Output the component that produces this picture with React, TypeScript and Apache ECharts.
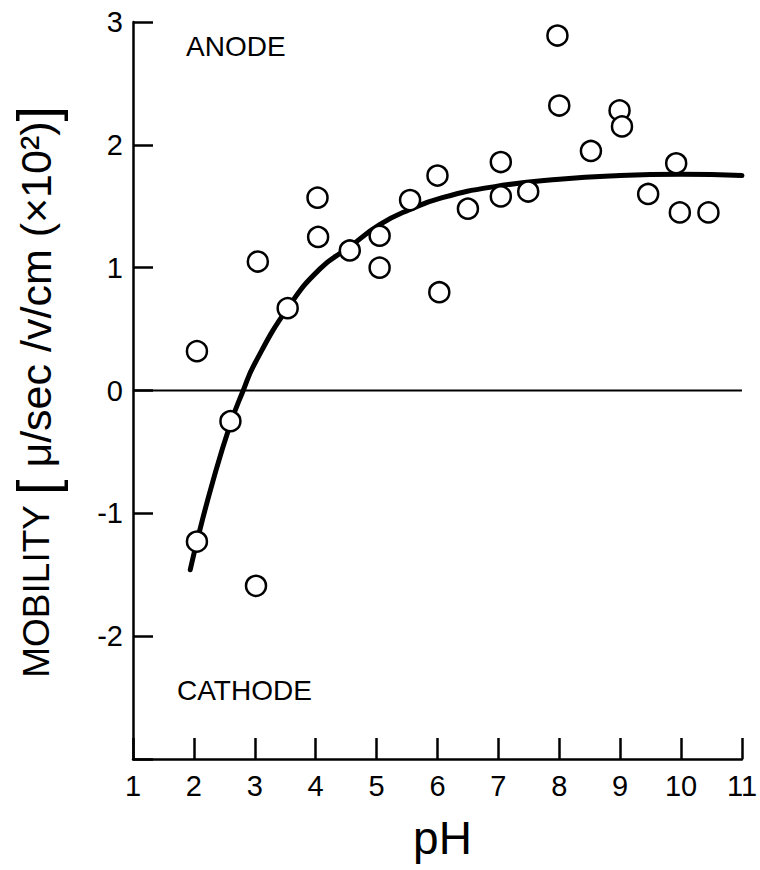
import { useEffect, useRef } from "react";
import * as echarts from "echarts";

const xTickValues = [1, 2, 3, 4, 5, 6, 7, 8, 9, 10, 11];
const yTickValues = [-3, -2, -1, 0, 1, 2, 3];

const pointPH = [2.05, 2.05, 2.6, 3.05, 3.02, 3.54, 4.03, 4.04, 4.56, 5.05, 5.05, 5.55, 6.0, 6.03, 6.5, 7.04, 7.04, 7.49, 7.97, 8.0, 8.52, 8.99, 9.03, 9.46, 9.92, 9.98, 10.45];
const pointMobility = [0.32, -1.23, -0.25, 1.05, -1.59, 0.67, 1.57, 1.25, 1.14, 1.26, 1.0, 1.55, 1.75, 0.8, 1.48, 1.86, 1.58, 1.62, 2.89, 2.32, 1.95, 2.28, 2.15, 1.6, 1.85, 1.45, 1.45];

const curvePH = [1.94, 2.05, 2.3, 2.6, 2.81, 3.0, 3.54, 4.07, 4.56, 5.05, 5.53, 6.08, 6.94, 8.0, 9.0, 10.0, 11.0];
const curveMobility = [-1.46, -1.23, -0.76, -0.27, 0.0, 0.22, 0.67, 0.99, 1.17, 1.35, 1.47, 1.57, 1.66, 1.72, 1.75, 1.76, 1.75];

const zeroLinePH = [1, 11];
const zeroLineMobility = [0, 0];

const FONT = "'Liberation Sans', Arial, Helvetica, sans-serif";

export default function App() {
  const ref = useRef<HTMLDivElement>(null);
  useEffect(() => {
    document.body.style.margin = "0";
    if (!ref.current) return;
    const chart = echarts.init(ref.current, undefined, { renderer: "svg" });
    const zip = (a: number[], b: number[]) => a.map((v, i) => [v, b[i]]);
    chart.setOption({
      animation: false,
      backgroundColor: "#fff",
      grid: { left: 133, right: 9, top: 22, bottom: 111 },
      xAxis: {
        type: "value",
        min: xTickValues[0],
        max: xTickValues[xTickValues.length - 1],
        interval: 1,
        name: "pH",
        nameLocation: "middle",
        nameGap: 56,
        nameTextStyle: { fontSize: 46, color: "#000", fontFamily: FONT, padding: [0, 0, 0, 10] },
        axisLine: { onZero: false, lineStyle: { color: "#000", width: 2.5 } },
        axisTick: { inside: true, length: 21, lineStyle: { color: "#000", width: 2.5 } },
        axisLabel: { fontSize: 29, color: "#000", margin: 12, fontFamily: FONT },
        splitLine: { show: false },
      },
      yAxis: {
        type: "value",
        min: yTickValues[0],
        max: yTickValues[yTickValues.length - 1],
        interval: 1,
        axisLine: { lineStyle: { color: "#000", width: 2.5 } },
        axisTick: { inside: true, length: 20, lineStyle: { color: "#000", width: 2.5 } },
        axisLabel: {
          fontSize: 29,
          color: "#000",
          margin: 10,
          fontFamily: FONT,
          formatter: (v: number) => (v === yTickValues[0] ? "" : String(v)),
        },
        splitLine: { show: false },
      },
      graphic: [
        {
          type: "text",
          left: 186,
          top: 32,
          style: { text: "ANODE", fontSize: 28, fill: "#000", fontFamily: FONT },
        },
        {
          type: "text",
          left: 177,
          top: 676,
          style: { text: "CATHODE", fontSize: 28, fill: "#000", fontFamily: FONT },
        },
        {
          type: "text",
          x: 36,
          y: 392,
          rotation: Math.PI / 2,
          style: {
            text: "{a|MOBILITY }{b|[}{c| μ/sec /v/cm (×10²)}{b|]}",
            align: "center",
            verticalAlign: "middle",
            fill: "#000",
            fontFamily: FONT,
            rich: {
              a: { fontSize: 37, fontFamily: FONT, fill: "#000", lineHeight: 44 },
              b: { fontSize: 56, fontFamily: FONT, fill: "#000", lineHeight: 44 },
              c: { fontSize: 43, fontFamily: FONT, fill: "#000", lineHeight: 44 },
            },
          },
        },
      ],
      series: [
        {
          type: "line",
          data: zip(zeroLinePH, zeroLineMobility),
          symbol: "none",
          lineStyle: { color: "#000", width: 2 },
          z: 1,
          silent: true,
        },
        {
          type: "line",
          data: zip(curvePH, curveMobility),
          smooth: 0.5,
          symbol: "none",
          lineStyle: { color: "#000", width: 5, cap: "round", join: "round" },
          z: 2,
          silent: true,
        },
        {
          type: "scatter",
          data: zip(pointPH, pointMobility),
          symbol: "circle",
          symbolSize: 20,
          itemStyle: { color: "#fff", borderColor: "#000", borderWidth: 2.5, opacity: 1 },
          z: 3,
        },
      ],
    });
    return () => chart.dispose();
  }, []);
  return <div ref={ref} style={{ width: 760, height: 870 }} />;
}
